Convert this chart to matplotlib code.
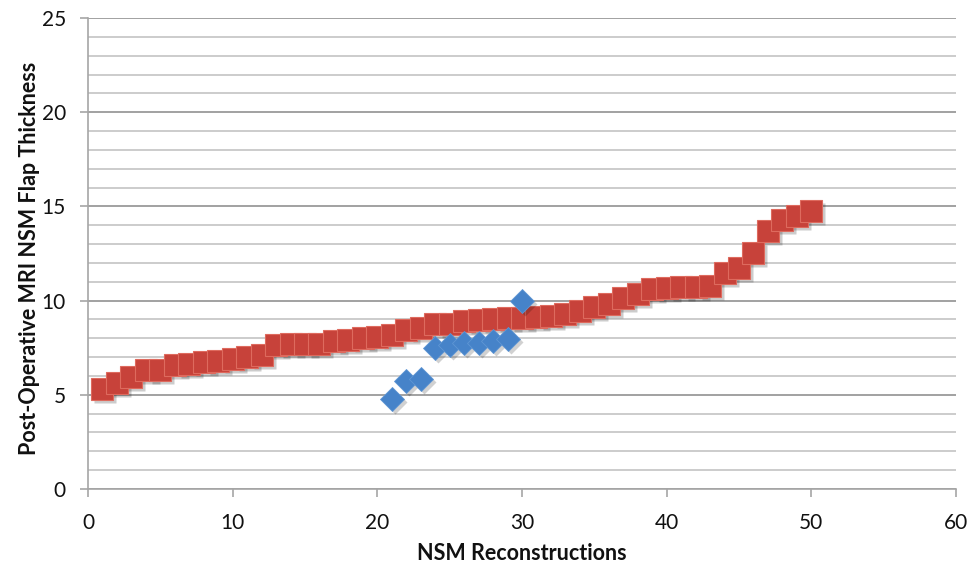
import matplotlib
matplotlib.use('Agg')
import matplotlib.pyplot as plt
from matplotlib.ticker import MultipleLocator
import matplotlib.transforms as mtransforms

# ---- data ----
red_x = list(range(1, 51))
red_y = [5.3, 5.6, 5.95, 6.3, 6.3, 6.6, 6.65, 6.75, 6.8, 6.9,
         7.0, 7.1, 7.65, 7.7, 7.7, 7.7, 7.85, 7.9, 8.0, 8.05,
         8.2, 8.45, 8.55, 8.75, 8.75, 8.9, 8.95, 9.0, 9.05, 9.1,
         9.15, 9.2, 9.3, 9.45, 9.65, 9.8, 10.15, 10.35, 10.6, 10.65,
         10.7, 10.7, 10.8, 11.45, 11.75, 12.55, 13.7, 14.3, 14.5, 14.75]
blue_x = list(range(21, 31))
blue_y = [4.8, 5.75, 5.85, 7.5, 7.65, 7.75, 7.75, 7.85, 7.95, 10.0]

x_ticks = [0, 10, 20, 30, 40, 50, 60]
y_ticks = [0, 5, 10, 15, 20, 25]
x_label = "NSM Reconstructions"
y_label = "Post-Operative MRI NSM Flap Thickness"

RED = '#C7423A'
RED_EDGE = '#DE6A5E'
BLUE = '#4683C9'
BLUE_EDGE = '#5F96D4'
AXIS_GRAY = '#A6A6A6'

plt.rcParams['font.family'] = ['Lato', 'DejaVu Sans']

fig = plt.figure(figsize=(9.7, 5.67), dpi=100)
ax = fig.add_axes([88 / 970, 1 - 489 / 567, (956 - 88) / 970, (489 - 18) / 567])

ax.set_xlim(0, 60)
ax.set_ylim(0, 25)

# gridlines
ax.yaxis.set_major_locator(MultipleLocator(5))
ax.yaxis.set_minor_locator(MultipleLocator(1))
ax.xaxis.set_major_locator(MultipleLocator(10))
ax.grid(axis='y', which='major', color='#9A9A9A', linewidth=1.3, zorder=0)
ax.grid(axis='y', which='minor', color='#BEBEBE', linewidth=1.1, zorder=0)
ax.set_axisbelow(True)

shadow = mtransforms.offset_copy(ax.transData, fig=fig, x=3, y=-3, units='dots')

# red squares (shadow then marker)
ax.plot(red_x, red_y, linestyle='none', marker='s', ms=15.8,
        mfc=(0, 0, 0, 0.2), mec='none', transform=shadow, zorder=2)
ax.plot(red_x, red_y, linestyle='none', marker='s', ms=15.8,
        mfc=RED, mec=RED_EDGE, mew=0.8, zorder=3)

# blue diamonds
ax.plot(blue_x, blue_y, linestyle='none', marker='D', ms=12,
        mfc=(0, 0, 0, 0.18), mec='none', transform=shadow, zorder=4)
ax.plot(blue_x, blue_y, linestyle='none', marker='D', ms=12,
        mfc=BLUE, mec=BLUE_EDGE, mew=0.6, zorder=5)

# spines
for s in ['top', 'right']:
    ax.spines[s].set_visible(False)
for s in ['left', 'bottom']:
    ax.spines[s].set_color(AXIS_GRAY)
    ax.spines[s].set_linewidth(1.2)

ax.set_xticks(x_ticks)
ax.set_yticks(y_ticks)
ax.set_xticklabels([str(t) for t in x_ticks])
ax.set_yticklabels([str(t) for t in y_ticks])
ax.tick_params(axis='both', which='major', direction='out', length=6,
               width=1.2, color=AXIS_GRAY, labelsize=15, labelcolor='#111111')
ax.tick_params(axis='y', which='major', pad=10)
ax.tick_params(axis='x', which='major', pad=11)
ax.tick_params(axis='y', which='minor', length=0)

fig.text(30 / 970, 1 - 258 / 567, y_label, rotation=90, ha='center', va='center',
         fontsize=15.5, fontweight='bold', color='#111111')
fig.text(522 / 970, 1 - 553 / 567, x_label, ha='center', va='center',
         fontsize=15.5, fontweight='bold', color='#111111')

fig.savefig('out.png', dpi=100)
